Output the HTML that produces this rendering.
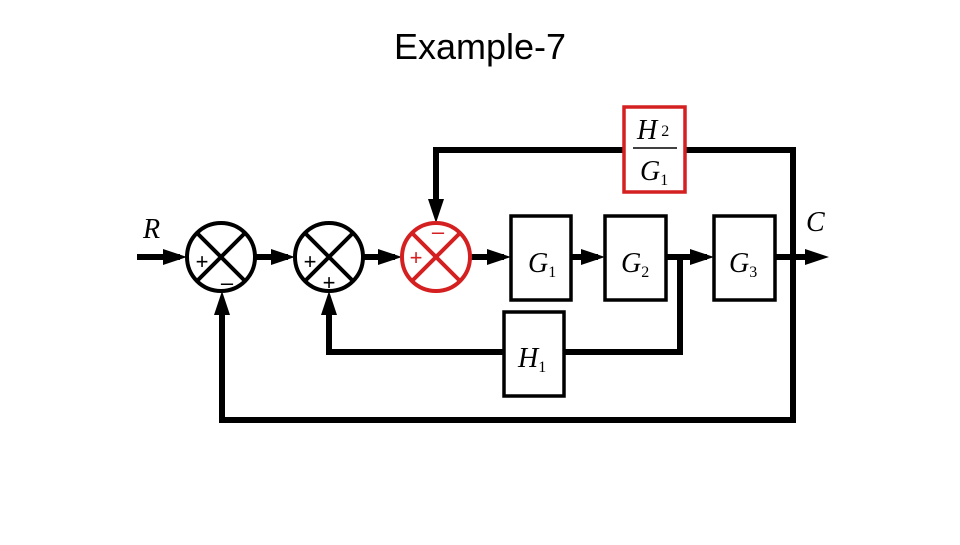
<!DOCTYPE html>
<html><head><meta charset="utf-8"><style>
body{margin:0;background:#fff;width:960px;height:540px;overflow:hidden}
</style></head><body>
<svg width="960" height="540" xmlns="http://www.w3.org/2000/svg">
<text x="480" y="59" text-anchor="middle" font-family="Liberation Sans Narrow, Liberation Sans, sans-serif" font-size="36">Example-7</text>
<g stroke="#000" stroke-width="6" fill="none">
<line x1="137" y1="257" x2="180" y2="257"/>
<line x1="256" y1="257" x2="288" y2="257"/>
<line x1="364" y1="257" x2="395" y2="257"/>
<line x1="470" y1="257" x2="504" y2="257"/>
<line x1="571" y1="257" x2="598" y2="257"/>
<line x1="666" y1="257" x2="707" y2="257"/>
<line x1="775" y1="257" x2="815" y2="257"/>
<polyline points="793,257 793,420 222,420 222,300"/>
<polyline points="680,257 680,352 329,352 329,300"/>
<polyline points="793,257 793,150 436,150 436,212"/>
</g>
<g fill="#000">
<path d="M187,257 L163,249 L163,265z"/>
<path d="M295,257 L271,249 L271,265z"/>
<path d="M402,257 L378,249 L378,265z"/>
<path d="M511,257 L487,249 L487,265z"/>
<path d="M605,257 L581,249 L581,265z"/>
<path d="M714,257 L690,249 L690,265z"/>
<path d="M829,257 L805,249 L805,265z"/>
<path d="M222,291 L214,315 L230,315z"/>
<path d="M329,291 L321,315 L337,315z"/>
<path d="M436,223 L428,199 L444,199z"/>
</g>
<g stroke="#000" stroke-width="3.5" fill="#fff">
<rect x="511" y="216" width="60" height="84"/>
<rect x="605" y="216" width="61" height="84"/>
<rect x="714" y="216" width="61" height="84"/>
<rect x="504" y="312" width="60" height="84"/>
</g>
<rect x="624" y="107" width="61" height="85" fill="#fff" stroke="#d42020" stroke-width="3.5"/>
<g stroke-width="4" fill="#fff">
<circle cx="221" cy="257" r="34" stroke="#000"/>
<circle cx="329" cy="257" r="34" stroke="#000"/>
<circle cx="436" cy="257" r="34" stroke="#d42020"/>
</g>
<g stroke-width="4">
<path d="M197,233 L245,281 M245,233 L197,281" stroke="#000"/>
<path d="M305,233 L353,281 M353,233 L305,281" stroke="#000"/>
<path d="M412,233 L460,281 M460,233 L412,281" stroke="#d42020"/>
</g>
<g font-family="Liberation Sans, sans-serif" font-size="22" text-anchor="middle">
<text x="202" y="269">+</text><text x="227" y="290">–</text>
<text x="310" y="269">+</text><text x="329" y="290">+</text>
<text x="416" y="265" fill="#d42020">+</text><text x="438" y="239" fill="#d42020">–</text>
</g>
<g font-family="Liberation Serif, serif" font-style="italic" font-size="28">
<text x="143" y="238">R</text>
<text x="806" y="231">C</text>
<text x="528" y="272">G<tspan font-style="normal" font-size="16" dy="5">1</tspan></text>
<text x="621" y="272">G<tspan font-style="normal" font-size="16" dy="5">2</tspan></text>
<text x="729" y="272">G<tspan font-style="normal" font-size="16" dy="5">3</tspan></text>
<text x="518" y="367">H<tspan font-style="normal" font-size="16" dy="5">1</tspan></text>
<text x="637" y="139">H<tspan font-style="normal" font-size="16" dx="4" dy="-3">2</tspan></text>
<text x="640" y="180">G<tspan font-style="normal" font-size="16" dy="5">1</tspan></text>
</g>
<line x1="633" y1="148" x2="677" y2="148" stroke="#000" stroke-width="1.5"/>
</svg>
</body></html>
